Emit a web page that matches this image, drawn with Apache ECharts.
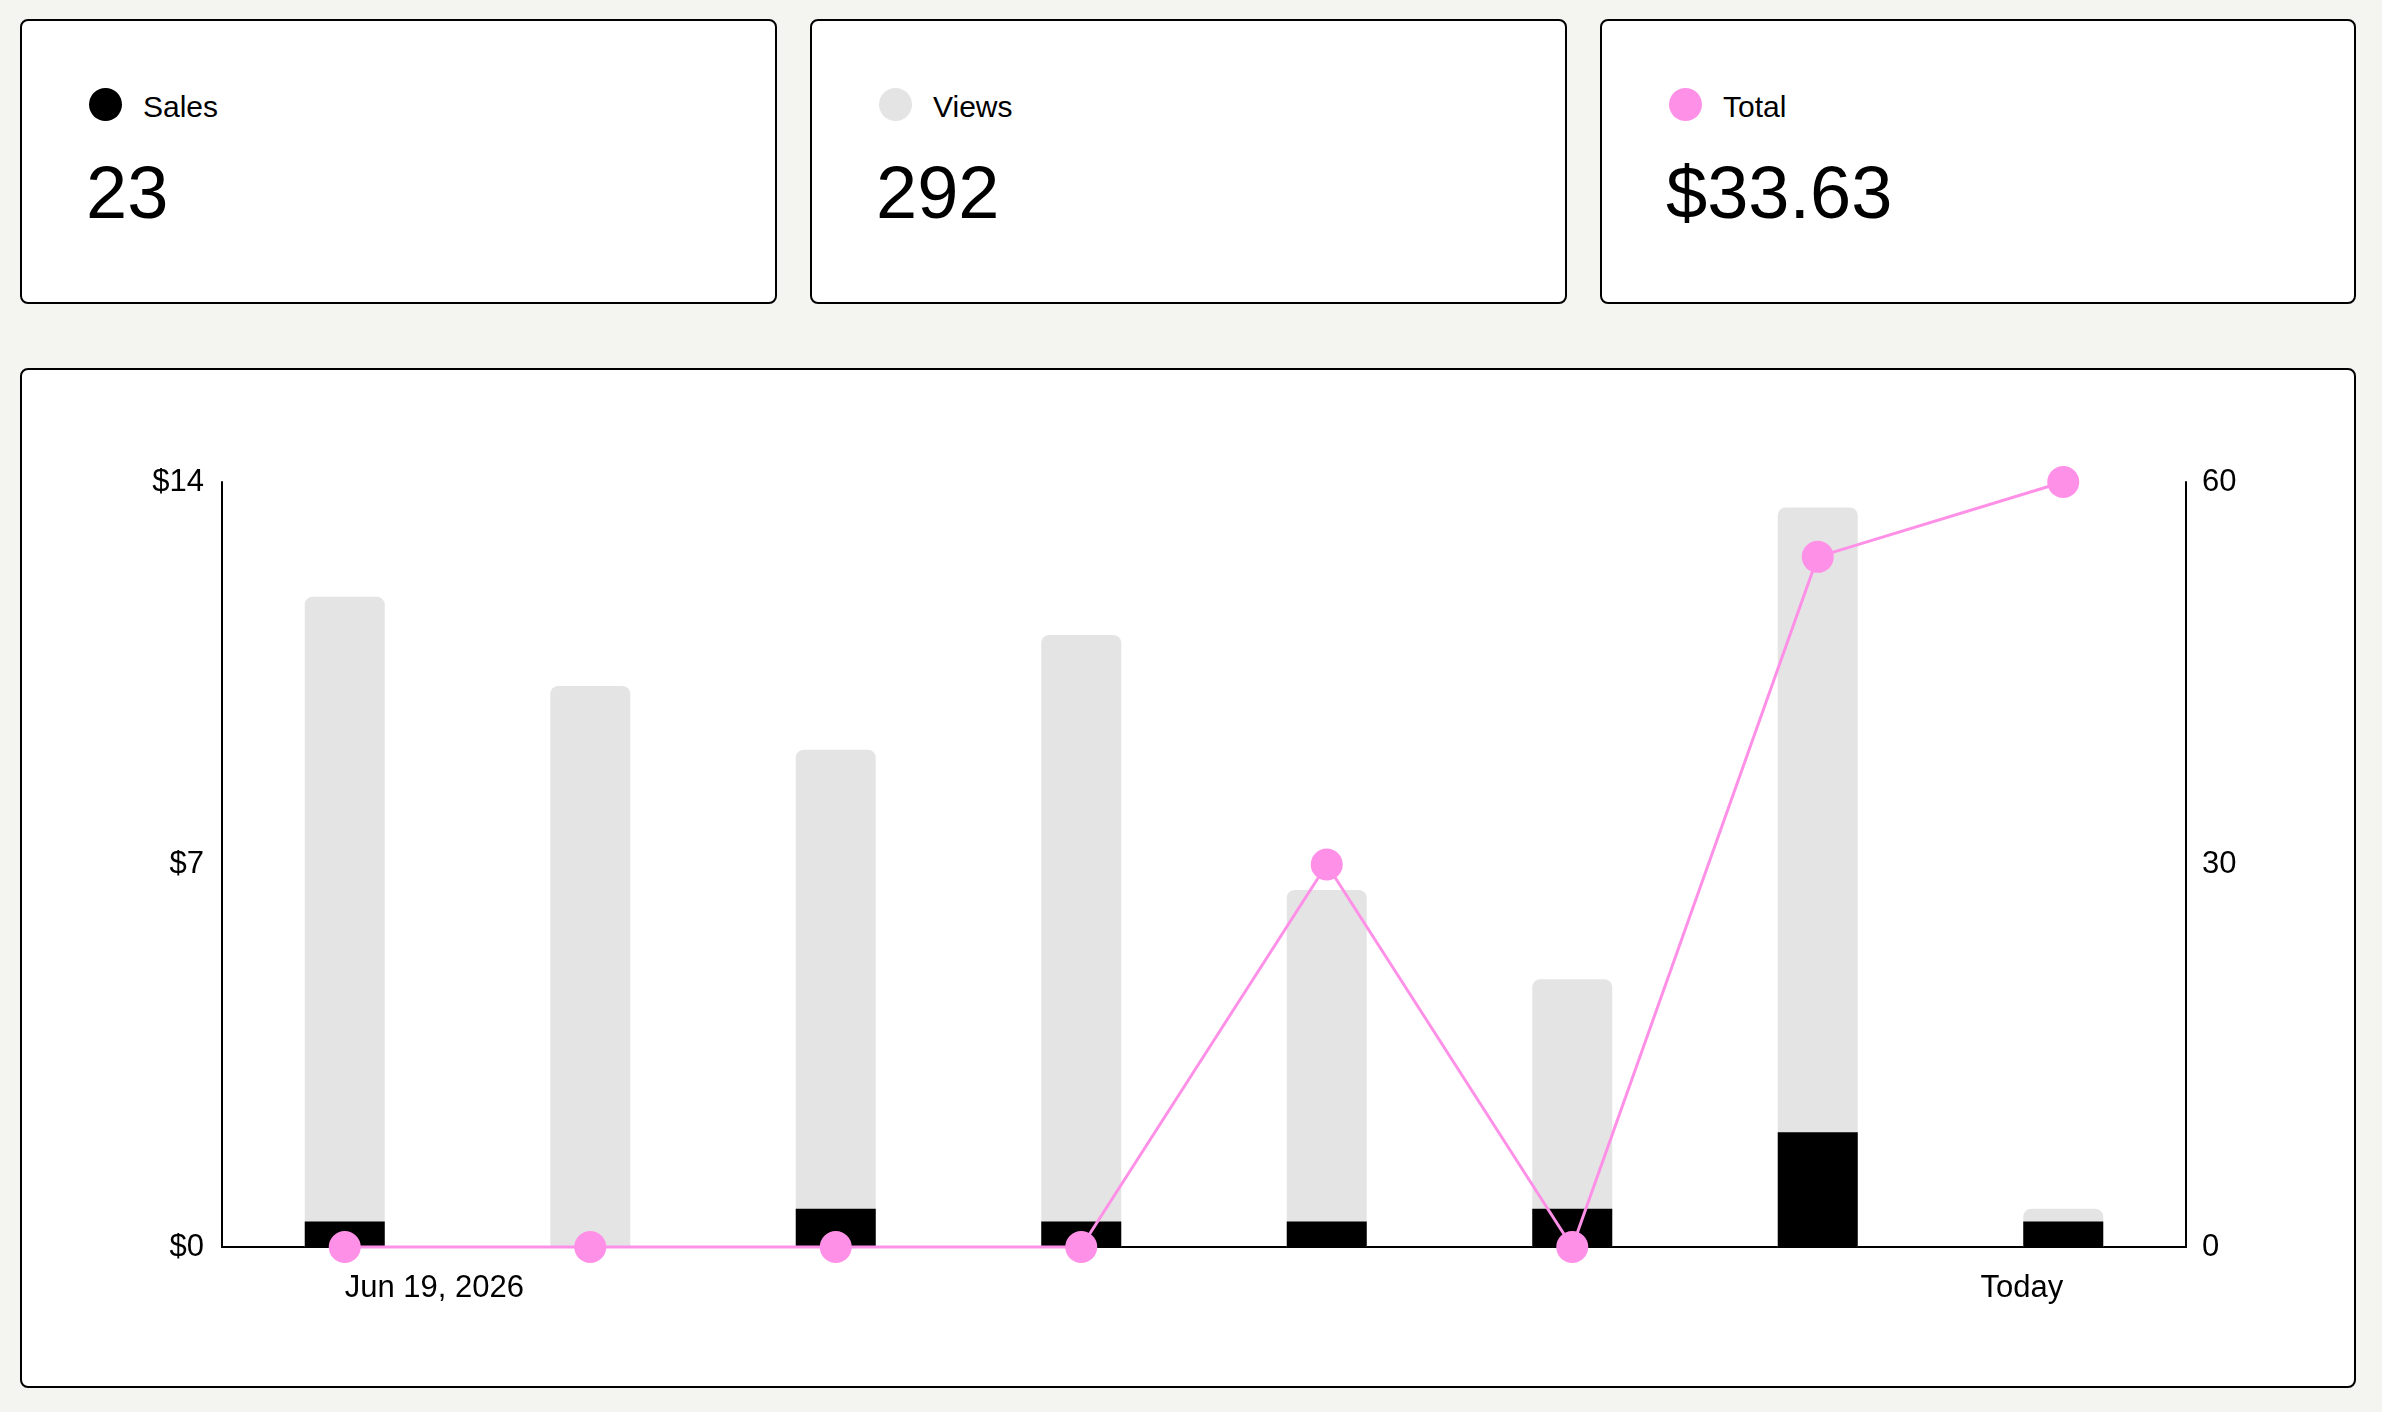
<!DOCTYPE html>
<html>
<head>
<meta charset="utf-8">
<script src="https://cdn.jsdelivr.net/npm/echarts@6/dist/echarts.min.js"></script>
<style>
  html, body { margin: 0; padding: 0; background: #f4f4f0; width: 2382px; height: 1412px; overflow: hidden; font-family: "Liberation Sans", Arial, sans-serif; color: #000; }
  .card { position: absolute; background: #fff; border: 2px solid #000; border-radius: 8px; box-sizing: border-box; }
  .dot { position: absolute; width: 33px; height: 33px; border-radius: 50%; }
  .lbl { position: absolute; font-size: 30px; line-height: 30px; white-space: nowrap; }
  .val { position: absolute; font-size: 74px; line-height: 74px; white-space: nowrap; }
  #chart { position: absolute; left: 0; top: 0; width: 2382px; height: 1412px; }
</style>
</head>
<body>
<div class="card" style="left:20px;top:19px;width:757px;height:285px;"></div>
<div class="card" style="left:810px;top:19px;width:757px;height:285px;"></div>
<div class="card" style="left:1600px;top:19px;width:756px;height:285px;"></div>
<div class="card" style="left:20px;top:368px;width:2336px;height:1020px;"></div>

<div id="cards"></div>
<div id="chart"></div>
<script>
const summaryLabels = ['Sales', 'Views', 'Total'];
const summaryValues = ['23', '292', '$33.63'];
const summaryColors = ['#000000', '#e4e4e4', '#ff90e8'];

const categories = ['Jun 19, 2026', 'Jun 20, 2026', 'Jun 21, 2026', 'Jun 22, 2026', 'Jun 23, 2026', 'Jun 24, 2026', 'Jun 25, 2026', 'Today'];
const views = [51, 44, 39, 48, 28, 21, 58, 3];
const sales = [2, 0, 3, 2, 2, 3, 9, 2];
const totals = [0, 0, 0, 0, 7.00, 0, 12.63, 14.00];

// summary cards
const cardLefts = [20, 810, 1600];
const holder = document.getElementById('cards');
summaryLabels.forEach(function (name, i) {
  const x = cardLefts[i];
  const dot = document.createElement('div');
  dot.className = 'dot';
  dot.style.left = (x + 69) + 'px';
  dot.style.top = '88px';
  dot.style.background = summaryColors[i];
  holder.appendChild(dot);
  const l = document.createElement('div');
  l.className = 'lbl';
  l.style.left = (x + 123) + 'px';
  l.style.top = '92px';
  l.textContent = name;
  holder.appendChild(l);
  const v = document.createElement('div');
  v.className = 'val';
  v.style.left = (x + 66) + 'px';
  v.style.top = '156px';
  v.textContent = summaryValues[i];
  holder.appendChild(v);
});

const chart = echarts.init(document.getElementById('chart'), null, { renderer: 'canvas' });
const fontFamily = '"Liberation Sans", Arial, sans-serif';
chart.setOption({
  backgroundColor: 'transparent',
  animation: false,
  grid: { left: 222, right: 196, top: 482, bottom: 165, containLabel: false },
  xAxis: {
    type: 'category',
    data: categories,
    boundaryGap: true,
    axisLine: { show: true, lineStyle: { color: '#000', width: 2 } },
    axisTick: { show: false },
    axisLabel: {
      interval: function (i) { return i === 0 || i === categories.length - 1; },
      color: '#000',
      fontSize: 31,
      fontFamily: fontFamily,
      margin: 26,
      alignMinLabel: 'left',
      alignMaxLabel: 'right'
    },
    splitLine: { show: false }
  },
  yAxis: [
    {
      type: 'value',
      min: 0, max: 14, interval: 7,
      position: 'left',
      axisLine: { show: true, lineStyle: { color: '#000', width: 2 } },
      axisTick: { show: false },
      splitLine: { show: false },
      axisLabel: { color: '#000', fontSize: 31, fontFamily: fontFamily, margin: 18, padding: [4, 0, 0, 0], formatter: function (v) { return '$' + v; } }
    },
    {
      type: 'value',
      min: 0, max: 60, interval: 30,
      position: 'right',
      axisLine: { show: true, lineStyle: { color: '#000', width: 2 } },
      axisTick: { show: false },
      splitLine: { show: false },
      axisLabel: { color: '#000', fontSize: 31, fontFamily: fontFamily, margin: 16, padding: [4, 0, 0, 0] }
    }
  ],
  series: [
    {
      name: 'Views',
      type: 'bar',
      yAxisIndex: 1,
      data: views,
      barWidth: 80,
      barGap: '-100%',
      itemStyle: { color: '#e4e4e4', borderRadius: [8, 8, 0, 0] },
      z: 1
    },
    {
      name: 'Sales',
      type: 'bar',
      yAxisIndex: 1,
      data: sales,
      barWidth: 80,
      barGap: '-100%',
      itemStyle: { color: '#000000', borderRadius: 0 },
      z: 2
    },
    {
      name: 'Total',
      type: 'line',
      yAxisIndex: 0,
      data: totals,
      symbol: 'circle',
      symbolSize: 32,
      showAllSymbol: true,
      clip: false,
      lineStyle: { color: '#ff90e8', width: 3 },
      itemStyle: { color: '#ff90e8' },
      z: 5
    }
  ]
});
</script>
</body>
</html>
